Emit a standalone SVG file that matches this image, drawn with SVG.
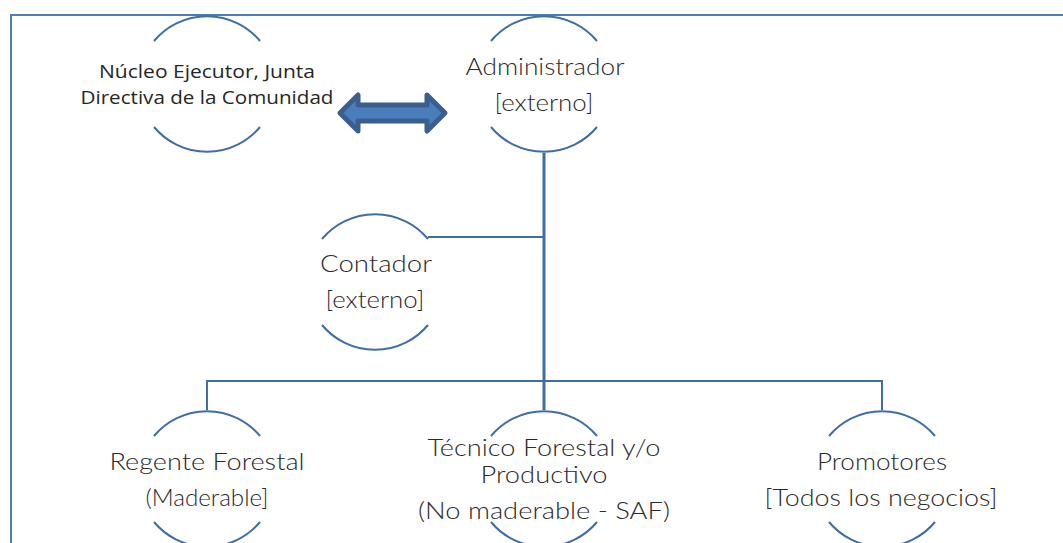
<svg xmlns="http://www.w3.org/2000/svg" width="1063" height="543" viewBox="0 0 1063 543">
<style>
.arc{fill:none;stroke:#3F6EA6;stroke-width:2}
.con{fill:none;stroke:#3F6EA6;stroke-width:2}
.trunk{fill:none;stroke:#3F6EA6;stroke-width:3}
.g{font-family:Lato,"Liberation Sans",sans-serif;font-size:23.5px;font-weight:300;fill:#2A2A2A;text-anchor:middle}
.c{font-family:"Open Sans","Liberation Sans",sans-serif;font-size:19px;font-weight:400;fill:#262626;text-anchor:middle}
</style>
<rect x="11" y="15" width="1100" height="600" fill="#fff" stroke="#4A7EBB" stroke-width="2"/>
<g id="connectors">
<path class="trunk" d="M544 153 V410"/>
<path class="con" d="M428 237 H544"/>
<path class="con" d="M207 410 V381 H882 V410"/>
<polygon points="340,113 358,95 358,105 427,105 427,95 445,113 427,131 427,121 358,121 358,131" fill="#4A7EBB" stroke="#3A5F8F" stroke-width="5" stroke-linejoin="round"/>
</g>
<g id="nucleo">
<path class="arc" d="M154 41 A69 69 0 0 1 260 41 M154 127 A69 69 0 0 0 260 127"/>
<text class="c" x="207" y="78" textLength="216" lengthAdjust="spacingAndGlyphs">Núcleo Ejecutor, Junta</text>
<text class="c" x="207" y="104" textLength="253" lengthAdjust="spacingAndGlyphs">Directiva de la Comunidad</text>
</g>
<g id="administrador">
<path class="arc" d="M491 41 A69 69 0 0 1 597 41 M491 127 A69 69 0 0 0 597 127"/>
<text class="g" x="545" y="75" textLength="159" lengthAdjust="spacingAndGlyphs">Administrador</text>
<text class="g" x="544" y="111" textLength="99" lengthAdjust="spacingAndGlyphs">[externo]</text>
</g>
<g id="contador">
<path class="arc" d="M322 239 A69 69 0 0 1 428 239 M322 325 A69 69 0 0 0 428 325"/>
<text class="g" x="376" y="272" textLength="112" lengthAdjust="spacingAndGlyphs">Contador</text>
<text class="g" x="375" y="308" textLength="99" lengthAdjust="spacingAndGlyphs">[externo]</text>
</g>
<g id="regente">
<path class="arc" d="M154 436 A69 69 0 0 1 260 436 M154 522 A69 69 0 0 0 260 522"/>
<text class="g" x="207" y="470" textLength="195" lengthAdjust="spacingAndGlyphs">Regente Forestal</text>
<text class="g" x="207" y="506" textLength="123" lengthAdjust="spacingAndGlyphs">(Maderable]</text>
</g>
<g id="tecnico">
<path class="arc" d="M491 436 A69 69 0 0 1 597 436 M491 522 A69 69 0 0 0 597 522"/>
<text class="g" x="544" y="456" textLength="233" lengthAdjust="spacingAndGlyphs">Técnico Forestal y/o</text>
<text class="g" x="544" y="483" textLength="127" lengthAdjust="spacingAndGlyphs">Productivo</text>
<text class="g" x="544" y="519" textLength="252" lengthAdjust="spacingAndGlyphs">(No maderable - SAF)</text>
</g>
<g id="promotores">
<path class="arc" d="M829 436 A69 69 0 0 1 935 436 M829 522 A69 69 0 0 0 935 522"/>
<text class="g" x="882" y="470" textLength="130" lengthAdjust="spacingAndGlyphs">Promotores</text>
<text class="g" x="881" y="506" textLength="233" lengthAdjust="spacingAndGlyphs">[Todos los negocios]</text>
</g>
</svg>
